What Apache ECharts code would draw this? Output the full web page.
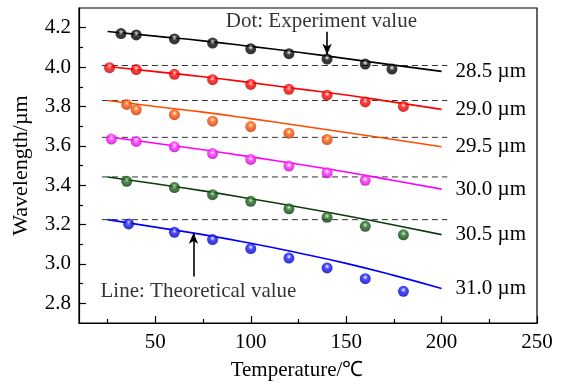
<!DOCTYPE html>
<html>
<head>
<meta charset="utf-8">
<script src="https://cdn.jsdelivr.net/npm/echarts@6/dist/echarts.min.js"></script>
<style>
  html, body { margin: 0; padding: 0; background: #fff; }
  #chart { width: 564px; height: 388px; }
</style>
</head>
<body>
<div id="chart"></div>
<script>
// Temperature tuning of lasing wavelength for six poling periods
const FONT = "'Liberation Serif', 'Times New Roman', serif";

const periods = ['28.5 µm', '29.0 µm', '29.5 µm', '30.0 µm', '30.5 µm', '31.0 µm'];
const lineColors = ['#000000', '#ff0000', '#ff4d00', '#ff00ff', '#0d3d0d', '#0000ff'];
const dotColors = [
  ['#a0a0a0', '#0a0a0a', '#000000'],
  ['#ff9a8a', '#ff0a0a', '#c00000'],
  ['#ffb080', '#ff5a08', '#c83000'],
  ['#ffb0ff', '#ff30ff', '#c000c0'],
  ['#80b080', '#1f6a1f', '#0a340a'],
  ['#a0a0ff', '#1818ff', '#0000b0']
];

// Theoretical curves
const theoryTemps = [25, 50, 75, 100, 125, 150, 175, 200];
const theory285 = [4.181, 4.157, 4.133, 4.105, 4.075, 4.043, 4.010, 3.978];
const theory290 = [4.003, 3.977, 3.951, 3.921, 3.889, 3.858, 3.822, 3.785];
const theory295 = [3.830, 3.800, 3.771, 3.738, 3.703, 3.668, 3.632, 3.595];
const theory300 = [3.646, 3.613, 3.580, 3.544, 3.506, 3.467, 3.424, 3.380];
const theory305 = [3.442, 3.407, 3.371, 3.331, 3.289, 3.245, 3.198, 3.149];
const theory310 = [3.225, 3.187, 3.149, 3.105, 3.056, 3.003, 2.942, 2.875];
const theory = [theory285, theory290, theory295, theory300, theory305, theory310];

// Measured points
const expTemps285 = [32, 40, 60, 80, 100, 120, 140, 160, 174];
const exp285 = [4.170, 4.163, 4.143, 4.122, 4.093, 4.068, 4.041, 4.015, 3.990];
const expTemps290 = [26, 40, 60, 80, 100, 120, 140, 160, 180];
const exp290 = [3.997, 3.987, 3.963, 3.936, 3.912, 3.887, 3.857, 3.823, 3.800];
const expTemps295 = [35, 40, 60, 80, 100, 120, 140];
const exp295 = [3.810, 3.783, 3.758, 3.725, 3.698, 3.664, 3.632];
const expTemps300 = [27, 40, 60, 80, 100, 120, 140, 160];
const exp300 = [3.634, 3.622, 3.595, 3.561, 3.531, 3.497, 3.463, 3.425];
const expTemps305 = [35, 60, 80, 100, 120, 140, 160, 180];
const exp305 = [3.420, 3.388, 3.352, 3.318, 3.280, 3.237, 3.191, 3.148];
const expTemps310 = [36, 60, 80, 100, 120, 140, 160, 180];
const exp310 = [3.203, 3.161, 3.124, 3.078, 3.030, 2.980, 2.925, 2.861];
const expTemps = [expTemps285, expTemps290, expTemps295, expTemps300, expTemps305, expTemps310];
const exps = [exp285, exp290, exp295, exp300, exp305, exp310];

// Dashed guides at each next period's room-temperature wavelength
const guideLevels = [4.008, 3.830, 3.643, 3.442, 3.225];
const guideRange = [22, 203];

// Axis ticks
const xMajor = [50, 100, 150, 200, 250];
const xMinor = [25, 75, 125, 175, 225];
const yMajor = [2.8, 3.0, 3.2, 3.4, 3.6, 3.8, 4.0, 4.2];
const yMinor = [2.9, 3.1, 3.3, 3.5, 3.7, 3.9, 4.1];

// Annotations
const notes = ['Dot: Experiment value', 'Line: Theoretical value'];
const notePos = [[137, 4.232], [72.6, 2.859]];
const arrows = [[[140, 4.180], [140, 4.063]], [[70, 2.936], [70, 3.159]]];

const pair = (xs, ys) => xs.map((x, i) => [x, ys[i]]);

const series = [];

guideLevels.forEach(level => {
  series.push({
    type: 'line',
    data: [[guideRange[0], level], [guideRange[1], level]],
    showSymbol: false,
    silent: true,
    z: 1,
    lineStyle: { color: '#333', width: 1, type: [6, 4] }
  });
});

theory.forEach((vals, i) => {
  series.push({
    type: 'line',
    data: pair(theoryTemps, vals),
    smooth: true,
    showSymbol: false,
    z: 2,
    lineStyle: { color: lineColors[i], width: 1.6 },
    endLabel: {
      show: true,
      formatter: periods[i],
      distance: 14,
      color: '#000',
      fontFamily: FONT,
      fontSize: 21
    }
  });
});

exps.forEach((vals, i) => {
  const c = dotColors[i];
  series.push({
    type: 'scatter',
    data: pair(expTemps[i], vals),
    symbol: 'circle',
    symbolSize: 11,
    z: 3,
    itemStyle: {
      color: {
        type: 'radial', x: 0.5, y: 0.38, r: 0.62,
        colorStops: [
          { offset: 0, color: '#ffffff' },
          { offset: 0.14, color: c[0] },
          { offset: 0.4, color: c[1] },
          { offset: 1, color: c[2] }
        ]
      }
    }
  });
});

series.push({
  type: 'scatter',
  data: notePos.map((p, i) => ({ value: p, name: notes[i] })),
  symbolSize: 0,
  silent: true,
  z: 4,
  label: {
    show: true,
    position: 'inside',
    formatter: p => p.name,
    color: '#000',
    fontFamily: FONT,
    fontSize: 21
  },
  markLine: {
    silent: true,
    symbol: ['none', 'arrow'],
    symbolSize: [7, 11],
    label: { show: false },
    lineStyle: { color: '#000', width: 1.6, type: 'solid' },
    data: arrows.map(a => [{ coord: a[0] }, { coord: a[1] }])
  }
});

const axisFont = { fontFamily: FONT, fontSize: 21, color: '#000' };

const option = {
  animation: false,
  backgroundColor: '#fff',
  grid: {
    left: 79, right: 27, top: 8, bottom: 65,
    show: true, borderColor: '#000', borderWidth: 1.2, backgroundColor: 'transparent'
  },
  xAxis: [
    {
      type: 'value', min: 10, max: 250, position: 'bottom',
      name: 'Temperature/℃', nameLocation: 'middle', nameGap: 37,
      nameTextStyle: Object.assign({ padding: [0, 22, 0, 0] }, axisFont),
      axisLine: { show: true, lineStyle: { color: '#000', width: 1.2 } },
      axisTick: { show: true, inside: true, length: 7, customValues: xMajor, lineStyle: { color: '#000', width: 1.2 } },
      axisLabel: Object.assign({ margin: 9, customValues: xMajor }, axisFont),
      splitLine: { show: false }
    },
    {
      type: 'value', min: 10, max: 250, position: 'bottom',
      axisLine: { show: false },
      axisTick: { show: true, inside: true, length: 4, customValues: xMinor, lineStyle: { color: '#000', width: 1.2 } },
      axisLabel: { show: false },
      splitLine: { show: false }
    }
  ],
  yAxis: [
    {
      type: 'value', min: 2.7, max: 4.3, position: 'left',
      name: 'Wavelength/µm', nameLocation: 'middle', nameGap: 47,
      nameTextStyle: Object.assign({}, axisFont, { fontSize: 22 }),
      axisLine: { show: true, lineStyle: { color: '#000', width: 1.2 } },
      axisTick: { show: true, inside: true, length: 7, customValues: yMajor, lineStyle: { color: '#000', width: 1.2 } },
      axisLabel: Object.assign({ margin: 8, customValues: yMajor, formatter: v => v.toFixed(1) }, axisFont),
      splitLine: { show: false }
    },
    {
      type: 'value', min: 2.7, max: 4.3, position: 'left',
      axisLine: { show: false },
      axisTick: { show: true, inside: true, length: 4, customValues: yMinor, lineStyle: { color: '#000', width: 1.2 } },
      axisLabel: { show: false },
      splitLine: { show: false }
    }
  ],
  series: series
};

const chart = echarts.init(document.getElementById('chart'), null, { renderer: 'canvas' });
chart.setOption(option);
</script>
</body>
</html>
